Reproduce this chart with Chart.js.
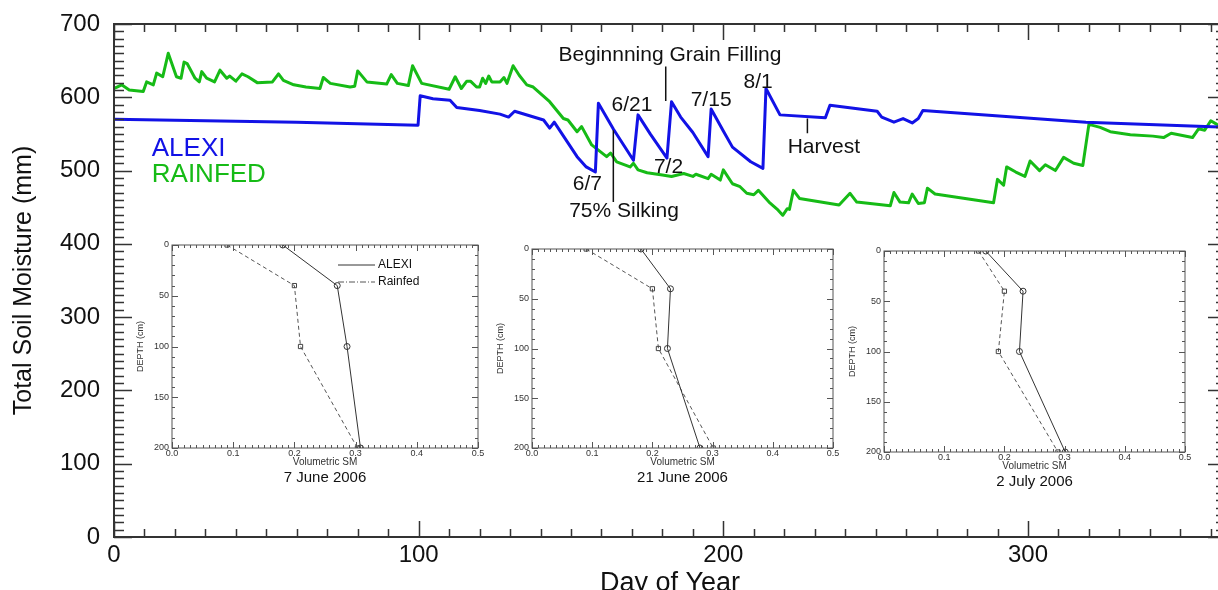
<!DOCTYPE html>
<html>
<head>
<meta charset="utf-8">
<title>Total Soil Moisture - ALEXI vs RAINFED</title>
<script src="https://cdn.jsdelivr.net/npm/chart.js"></script>
<style>
    html, body { margin: 0; padding: 0; background: #fff; overflow: hidden; }
    #wrap { position: relative; width: 1218px; height: 590px; overflow: hidden; background: #fff; }
    #mainChart { position: absolute; left: 0; top: 0; }
    .inset { position: absolute; }
</style>
</head>
<body>
<div id="wrap">
    <canvas id="mainChart" width="1228" height="600"></canvas>
    <canvas id="insetJun7" class="inset"></canvas>
    <canvas id="insetJun21" class="inset"></canvas>
    <canvas id="insetJul2" class="inset"></canvas>
</div>

<script>
// =====================================================
// DATA
// =====================================================
const alexiDays = [0, 30, 60, 99.8, 100.5, 104.7, 110.3, 112.5, 120, 126.7,
    129.5, 131.5, 141, 143, 144.5, 152, 155, 158, 159, 164,
    170.5, 172, 176, 181.5, 183, 186, 190, 195, 196, 200,
    203, 209, 213, 214, 218.6, 233.5, 235, 250.5, 252, 256,
    259, 262, 264, 265.5, 319, 365];
const alexiSM = [570, 568, 566, 562, 602, 598, 596, 586, 582, 577,
    573, 581, 569, 558, 566, 519, 505, 498, 592, 556,
    514, 576, 550, 517, 594, 573, 552, 519, 584, 554,
    532, 512, 503, 612, 576, 572, 589, 581, 573, 566,
    571, 565, 571, 582, 566, 559];

const rainfedDays = [0, 1, 2.5, 5, 9.6, 10.7, 12.9, 14, 16, 17.8,
    20.5, 22, 23, 24, 26.6, 28, 28.8, 30.4, 33, 34.8,
    37, 38, 40, 42, 44, 47, 52, 54, 55.6, 59,
    63, 67.6, 68.7, 71, 77.5, 79, 80, 83, 89.5, 91,
    93, 96.6, 98, 101, 110, 112, 114, 115.8, 117, 119,
    120, 121, 122, 123, 124, 126.7, 128, 129, 131, 133,
    135.5, 137.6, 143, 147.5, 149, 152, 153.5, 156.8, 161.7, 163,
    165, 169.4, 170.5, 172, 175, 180, 183, 187, 190, 191,
    195, 196, 199, 200, 203, 205.5, 207.7, 210, 211.5, 215,
    218, 219.5, 221, 221.7, 223, 225, 238, 241.6, 243.8, 254.8,
    256, 258, 260.8, 262, 264, 266, 267, 269.5, 288.7, 290,
    292, 293, 296, 299, 300.7, 303.8, 305.7, 309, 311.7, 315,
    318, 320, 323.7, 327, 333.6, 341, 344.5, 347, 354, 356,
    358, 360, 362, 365];
const rainfedSM = [612, 614, 617, 610, 608, 621, 617, 633, 628, 660,
    628, 626, 648, 646, 626, 621, 635, 626, 621, 637,
    626, 629, 622, 632, 628, 620, 621, 632, 623, 617,
    614, 612, 627, 619, 614, 615, 636, 621, 618, 631,
    619, 616, 643, 619, 611, 628, 612, 622, 622, 614,
    614, 626, 619, 629, 621, 621, 627, 619, 643, 630,
    617, 614, 594, 571, 569, 553, 560, 535, 519, 524,
    512, 505, 510, 501, 497, 494, 492, 496, 492, 495,
    489, 495, 487, 501, 482, 478, 469, 467, 473, 457,
    446, 439, 448, 447, 473, 462, 453, 469, 457, 452,
    470, 457, 456, 468, 455, 456, 476, 468, 456, 488,
    480, 505, 498, 492, 513, 500, 508, 500, 518, 510,
    507, 563, 559, 553, 549, 547, 545, 551, 545, 557,
    555, 568, 563, 560];

// soil profiles for the three insets
const depthCm = [0, 40, 100, 200];
const alexiJun7 = [0.181, 0.270, 0.286, 0.308];
const rainfedJun7 = [0.090, 0.200, 0.210, 0.303];
const alexiJun21 = [0.181, 0.230, 0.225, 0.279];
const rainfedJun21 = [0.090, 0.200, 0.210, 0.301];
const alexiJul2 = [0.169, 0.231, 0.225, 0.301];
const rainfedJul2 = [0.157, 0.200, 0.190, 0.289];

// text notes placed in data units (day, mm)
const notes = [
    { text: "Beginnning Grain Filling", day: 182.5, sm: 657 },
    { text: "6/21", day: 170, sm: 589 },
    { text: "7/15", day: 196, sm: 596 },
    { text: "8/1", day: 211.4, sm: 621 },
    { text: "Harvest", day: 233, sm: 532 },
    { text: "6/7", day: 155.4, sm: 481 },
    { text: "75% Silking", day: 167.4, sm: 444 },
    { text: "7/2", day: 182, sm: 505 }
];
const noteLines = [
    { day: 181.1, from: 642, to: 595 },
    { day: 163.9, from: 555, to: 457 },
    { day: 227.6, from: 571, to: 551 }
];

// =====================================================
// COMMON STYLE
// =====================================================
const BLUE = "#1212e6";
const GREEN = "#16bb16";
const INK = "#111111";
const FONT = '"Liberation Sans", Arial, Helvetica, sans-serif';

Chart.defaults.font.family = FONT;
Chart.defaults.color = INK;
Chart.defaults.animation = false;
Chart.defaults.responsive = false;
Chart.defaults.devicePixelRatio = 1;
Chart.defaults.plugins.legend.display = false;
Chart.defaults.plugins.tooltip.enabled = false;

function pairs(xs, ys) {
    return xs.map(function (x, i) { return { x: x, y: ys[i] }; });
}

// fixed axis box sizes, no extra label padding added to the layout
function fixHeight(h) {
    return function (s) { s.height = h; s.paddingLeft = 0; s.paddingRight = 0; };
}
function fixWidth(w) {
    return function (s) { s.width = w; s.paddingTop = 0; s.paddingBottom = 0; };
}

// frame + inward tick marks on all four sides
const boxTicks = {
    id: "boxTicks",
    afterDatasetsDraw(chart, args, o) {
        const { ctx, chartArea: a, scales: { x, y } } = chart;
        ctx.save();
        ctx.strokeStyle = o.color;
        ctx.lineWidth = o.tickWidth;
        ctx.beginPath();
        const nx = Math.round((x.max - x.min) / o.xMinor);
        for (let i = 0; i <= nx; i++) {
            const v = x.min + i * o.xMinor;
            if (v > x.max + 1e-9) break;
            const px = Math.round(x.getPixelForValue(v)) + 0.5;
            const len = i % o.xEvery === 0 ? o.xMajorLen : o.xMinorLen;
            ctx.moveTo(px, a.bottom); ctx.lineTo(px, a.bottom - len);
            ctx.moveTo(px, a.top); ctx.lineTo(px, a.top + len);
        }
        const ny = Math.round((y.max - y.min) / o.yMinor);
        for (let j = 0; j <= ny; j++) {
            const v = y.min + j * o.yMinor;
            const py = Math.round(y.getPixelForValue(v)) + 0.5;
            const len = j % o.yEvery === 0 ? o.yMajorLen : o.yMinorLen;
            ctx.moveTo(a.left, py); ctx.lineTo(a.left + len, py);
            ctx.moveTo(a.right, py); ctx.lineTo(a.right - len, py);
        }
        ctx.stroke();
        ctx.lineWidth = o.frameWidth;
        ctx.strokeRect(a.left, a.top, a.right - a.left, a.bottom - a.top);
        ctx.restore();
    }
};

// stage labels, pointer lines and the coloured series names
const mainNotes = {
    id: "mainNotes",
    afterDatasetsDraw(chart) {
        const { ctx, scales: { x, y } } = chart;
        ctx.save();
        ctx.strokeStyle = INK;
        ctx.lineWidth = 1.5;
        ctx.beginPath();
        noteLines.forEach(function (l) {
            const px = x.getPixelForValue(l.day);
            ctx.moveTo(px, y.getPixelForValue(l.from));
            ctx.lineTo(px, y.getPixelForValue(l.to));
        });
        ctx.stroke();

        ctx.fillStyle = INK;
        ctx.font = "21px " + FONT;
        ctx.textAlign = "center";
        ctx.textBaseline = "middle";
        notes.forEach(function (n) {
            ctx.fillText(n.text, x.getPixelForValue(n.day), y.getPixelForValue(n.sm));
        });

        ctx.font = "26px " + FONT;
        ctx.textAlign = "left";
        const keyPos = [530, 494];
        chart.data.datasets.forEach(function (ds, i) {
            ctx.fillStyle = ds.borderColor;
            ctx.fillText(ds.label, x.getPixelForValue(12.4), y.getPixelForValue(keyPos[i]));
        });
        ctx.restore();
    }
};

// =====================================================
// MAIN CHART
// =====================================================
new Chart(document.getElementById("mainChart"), {
    type: "line",
    data: {
        datasets: [{
            label: "ALEXI",
            data: pairs(alexiDays, alexiSM),
            borderColor: BLUE,
            borderWidth: 3,
            pointRadius: 0,
            borderJoinStyle: "round"
        }, {
            label: "RAINFED",
            data: pairs(rainfedDays, rainfedSM),
            borderColor: GREEN,
            borderWidth: 3,
            pointRadius: 0,
            borderJoinStyle: "round"
        }]
    },
    options: {
        layout: { padding: { top: 24, right: 2, left: 0, bottom: 0 } },
        plugins: {
            boxTicks: {
                color: "#333", tickWidth: 1.5, frameWidth: 2,
                xMinor: 10, xEvery: 10, xMinorLen: 8, xMajorLen: 16,
                yMinor: 10, yEvery: 10, yMinorLen: 10, yMajorLen: 18
            }
        },
        scales: {
            x: {
                type: "linear",
                min: 0,
                max: 365,
                grid: { display: false, drawTicks: false },
                border: { display: false },
                ticks: { stepSize: 100, includeBounds: false, padding: 4, maxRotation: 0, font: { size: 24 }, color: INK },
                title: { display: true, text: "Day of Year", font: { size: 27 }, color: INK, padding: { top: 0, bottom: 0 } },
                afterFit: fixHeight(63)
            },
            y: {
                min: 0,
                max: 700,
                grid: { display: false, drawTicks: false },
                border: { display: false },
                ticks: { stepSize: 100, padding: 14, font: { size: 24 }, color: INK },
                title: { display: true, text: "Total Soil Moisture (mm)", font: { size: 25 }, color: INK, padding: { top: 9, bottom: 0 } },
                afterFit: fixWidth(114)
            }
        }
    },
    plugins: [boxTicks, mainNotes]
});

// =====================================================
// INSET PROFILES
// =====================================================
const insetText = {
    id: "insetText",
    afterDraw(chart, args, o) {
        const { ctx, chartArea: a } = chart;
        ctx.save();
        ctx.fillStyle = INK;
        ctx.font = "15px " + FONT;
        ctx.textAlign = "center";
        ctx.textBaseline = "middle";
        ctx.fillText(o.caption, (a.left + a.right) / 2, a.bottom + 30);
        if (o.withKey) {
            ctx.font = "12px " + FONT;
            ctx.textAlign = "left";
            chart.data.datasets.forEach(function (ds, i) {
                const yy = a.top + 20 + i * 17;
                ctx.strokeStyle = ds.borderColor;
                ctx.lineWidth = 1;
                ctx.setLineDash(i ? [6, 2, 1, 2] : []);
                ctx.beginPath();
                ctx.moveTo(a.left + 166, yy);
                ctx.lineTo(a.left + 203, yy);
                ctx.stroke();
                ctx.setLineDash([]);
                ctx.fillText(ds.label, a.left + 206, yy);
            });
        }
        ctx.restore();
    }
};

function profileInset(id, box, alexi, rainfed, caption, withKey) {
    const cv = document.getElementById(id);
    const padL = 42, padT = 8, padR = 8, padB = 40;
    cv.width = box.w + padL + padR;
    cv.height = box.h + padT + padB;
    cv.style.left = (box.left - padL) + "px";
    cv.style.top = (box.top - padT) + "px";

    return new Chart(cv, {
        type: "line",
        data: {
            datasets: [{
                label: "ALEXI",
                data: pairs(alexi, depthCm),
                borderColor: "#333",
                borderWidth: 1,
                pointStyle: "circle",
                pointRadius: 3,
                pointBorderWidth: 1,
                pointBorderColor: "#333",
                pointBackgroundColor: "rgba(255,255,255,0)"
            }, {
                label: "Rainfed",
                data: pairs(rainfed, depthCm),
                borderColor: "#555",
                borderWidth: 1,
                borderDash: [4, 3],
                pointStyle: "rect",
                pointRadius: 3,
                pointBorderWidth: 1,
                pointBorderColor: "#444",
                pointBackgroundColor: "rgba(255,255,255,0)"
            }]
        },
        options: {
            layout: { padding: { top: padT, right: padR, left: 0, bottom: 0 } },
            plugins: {
                boxTicks: {
                    color: "#555", tickWidth: 1, frameWidth: 1,
                    xMinor: 0.01, xEvery: 10, xMinorLen: 3, xMajorLen: 6,
                    yMinor: 10, yEvery: 5, yMinorLen: 3, yMajorLen: 6
                },
                insetText: { caption: caption, withKey: withKey }
            },
            scales: {
                x: {
                    type: "linear",
                    min: 0,
                    max: 0.5,
                    grid: { display: false, drawTicks: false },
                    border: { display: false },
                    ticks: {
                        stepSize: 0.1, padding: 0, autoSkip: false, maxRotation: 0,
                        font: { size: 9 }, color: "#333",
                        callback: function (v) { return v.toFixed(1); }
                    },
                    title: { display: true, text: "Volumetric SM", font: { size: 10 }, color: "#333", padding: { top: 0, bottom: 20 } },
                    afterFit: fixHeight(padB)
                },
                y: {
                    type: "linear",
                    reverse: true,
                    min: 0,
                    max: 200,
                    grid: { display: false, drawTicks: false },
                    border: { display: false },
                    ticks: { stepSize: 50, padding: 3, font: { size: 9 }, color: "#333" },
                    title: { display: true, text: "DEPTH (cm)", font: { size: 9 }, color: "#333", padding: { top: 5, bottom: 0 } },
                    afterFit: fixWidth(padL)
                }
            }
        },
        plugins: [boxTicks, insetText]
    });
}

profileInset("insetJun7", { left: 172, top: 245, w: 306, h: 203 }, alexiJun7, rainfedJun7, "7 June 2006", true);
profileInset("insetJun21", { left: 532, top: 249, w: 301, h: 199 }, alexiJun21, rainfedJun21, "21 June 2006", false);
profileInset("insetJul2", { left: 884, top: 251, w: 301, h: 201 }, alexiJul2, rainfedJul2, "2 July 2006", false);
</script>
</body>
</html>
